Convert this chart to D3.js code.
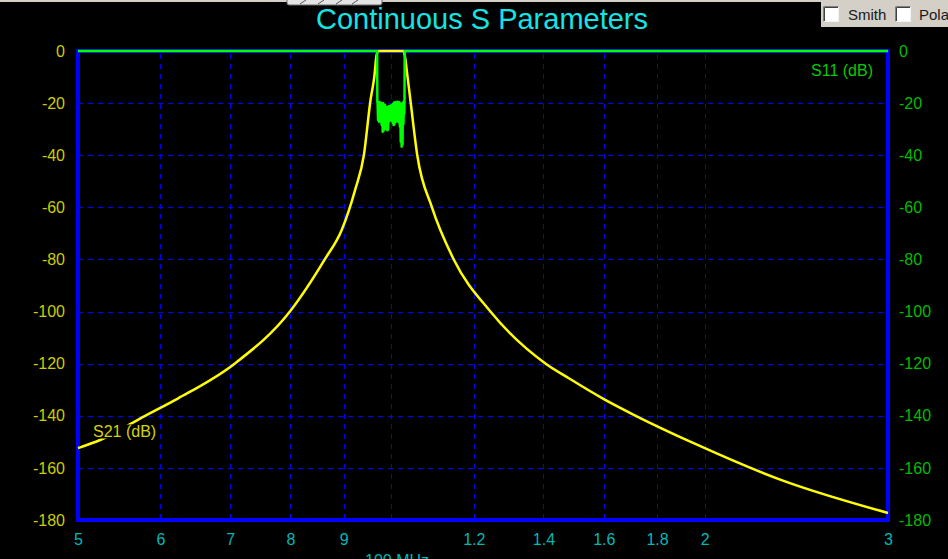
<!DOCTYPE html>
<html>
<head>
<meta charset="utf-8">
<script src="https://cdn.jsdelivr.net/npm/d3@7/dist/d3.min.js"></script>
<style>
  html, body { margin: 0; padding: 0; background: #000; overflow: hidden; }
  svg { display: block; }
</style>
</head>
<body>
<svg id="chart" width="948" height="559"></svg>
<script>
// ---------------- DATA ----------------
const title = "Continuous S Parameters";
const xTickValues = [50, 60, 70, 80, 90, 100, 120, 140, 160, 180, 200, 300];
const xTickLabels = ["5", "6", "7", "8", "9", "", "1.2", "1.4", "1.6", "1.8", "2", "3"];
const xGridValues = [60, 70, 80, 90, 100, 120, 140, 160, 180, 200];
const yTickValues = [0, -20, -40, -60, -80, -100, -120, -140, -160, -180];
const yGridValues = [-20, -40, -60, -80, -100, -120, -140, -160];
const xUnitLabel = "100 MHz";

// S21 (dB) vs frequency (MHz)
const s21Freq = [50, 52.5, 58.0, 62.4, 70.7, 79.9, 86.3, 89.6, 92.3, 94.1, 95.5, 96.3, 96.8, 97.2,
                 100, 102.7, 103.05, 103.55, 104.3, 105.9, 109.4, 114.8, 124.5,
                 140.7, 148.1, 160.0, 171.7, 195.4, 236.7, 300];
const s21dB = [-152.4, -149.3, -140.0, -133.3, -120.0, -100.0, -80.0, -68.7, -53.3, -40.0, -18.8, -9.9, -1.5, 0,
               0, 0, -2.0, -8.6, -18.8, -40.0, -60.0, -80.0, -100.0,
               -120.0, -125.6, -133.6, -140.0, -150.6, -164.6, -177.3];

// S11 (dB) vs frequency (MHz)
const s11Freq = [50, 96.9, 96.95,
  97.0, 97.1, 97.2, 97.3, 97.4, 97.5, 97.6, 97.7, 97.8, 97.9,
  98.0, 98.1, 98.2, 98.3, 98.4, 98.5, 98.6, 98.7, 98.8, 98.9,
  99.0, 99.1, 99.2, 99.3, 99.4, 99.5, 99.6, 99.7, 99.8, 99.9,
  100.0, 100.1, 100.2, 100.3, 100.4, 100.5, 100.6, 100.7, 100.8, 100.9,
  101.0, 101.1, 101.2, 101.3, 101.4, 101.5, 101.6, 101.7, 101.8, 101.9,
  102.0, 102.1, 102.2, 102.3, 102.4, 102.5, 102.6, 102.7, 102.8, 102.9,
  102.95, 103.0, 300];
const s11dB = [0, 0, -19.6,
  -19.8, -26.5, -20.2, -27.1, -19.6, -26.8, -20.4, -27.3, -19.9, -28.5,
  -20.3, -31.0, -20.1, -30.6, -21.0, -29.4, -20.6, -29.8, -21.4, -28.9,
  -21.5, -30.4, -21.8, -30.1, -21.2, -27.0, -21.6, -26.4, -20.9, -26.7,
  -21.3, -25.9, -20.7, -27.6, -20.2, -28.4, -19.8, -28.1, -20.3, -27.2,
  -19.6, -26.3, -20.1, -27.0, -19.5, -26.6, -20.0, -27.4, -19.7, -29.0,
  -20.4, -34.8, -20.2, -36.7, -20.6, -35.9, -19.8, -28.0, -19.4, -24.0,
  -18.8, 0, 0];

// ---------------- CHART ----------------
const W = 948, H = 559;
const svg = d3.select("#chart");
const FONT = "'Liberation Sans', Arial, sans-serif";

svg.append("rect").attr("x", 0).attr("y", 0).attr("width", W).attr("height", H).attr("fill", "#000");

const x = d3.scaleLog().domain([50, 300]).range([78, 888]);
const y = d3.scaleLinear().domain([-180, 0]).range([520, 51]);

// window chrome at top
svg.append("rect").attr("x", 0).attr("y", 0).attr("width", W).attr("height", 2).attr("fill", "#d4d0c8");
svg.append("rect").attr("x", 287).attr("y", -4).attr("width", 95).attr("height", 9).attr("rx", 2)
  .attr("fill", "#e4e4e4").attr("stroke", "#6a6a6a").attr("stroke-width", 1);
[300, 318, 336, 352].forEach(px => {
  svg.append("line").attr("x1", px).attr("x2", px + 6).attr("y1", 4).attr("y2", 0)
    .attr("stroke", "#555").attr("stroke-width", 1);
});

const panel = svg.append("g");
panel.append("rect").attr("x", 821).attr("y", 0).attr("width", 127).attr("height", 27).attr("fill", "#d4d0c8");
function checkbox(bx, by) {
  panel.append("rect").attr("x", bx).attr("y", by).attr("width", 16).attr("height", 16).attr("fill", "#fff");
  panel.append("path").attr("d", `M${bx + 0.5},${by + 16} V${by + 0.5} H${bx + 16}`).attr("fill", "none").attr("stroke", "#808080");
  panel.append("path").attr("d", `M${bx + 1.5},${by + 15} V${by + 1.5} H${bx + 15}`).attr("fill", "none").attr("stroke", "#404040");
  panel.append("path").attr("d", `M${bx + 0.5},${by + 15.5} H${bx + 15.5} V${by + 0.5}`).attr("fill", "none").attr("stroke", "#f4f4f4");
}
checkbox(823, 6);
checkbox(895, 6);
panel.append("text").attr("x", 848).attr("y", 20).attr("font-family", FONT).attr("font-size", 15)
  .attr("fill", "#1a1a1a").text("Smith");
panel.append("text").attr("x", 919).attr("y", 20).attr("font-family", FONT).attr("font-size", 15)
  .attr("fill", "#1a1a1a").text("Polar");

// title
svg.append("text").attr("x", 482).attr("y", 29).attr("text-anchor", "middle")
  .attr("font-family", FONT).attr("font-size", 29).attr("fill", "#14e4e4").text(title);

// grid
const grid = svg.append("g").attr("stroke", "#0000ff").attr("stroke-width", 1)
  .attr("stroke-dasharray", "5,5").attr("shape-rendering", "crispEdges");
grid.selectAll("line.v").data(xGridValues).join("line").attr("class", "v")
  .attr("x1", d => Math.round(x(d)) + 0.5).attr("x2", d => Math.round(x(d)) + 0.5)
  .attr("y1", y(0) + 3).attr("y2", y(-180));
grid.selectAll("line.h").data(yGridValues).join("line").attr("class", "h")
  .attr("x1", x(50)).attr("x2", x(300))
  .attr("y1", d => Math.round(y(d)) + 0.5).attr("y2", d => Math.round(y(d)) + 0.5);

// axes (labels)
function styleAxis(g, color) {
  g.select(".domain").remove();
  g.selectAll(".tick line").remove();
  g.selectAll("text").attr("font-family", FONT).attr("font-size", 16).attr("fill", color);
}
svg.append("g").attr("transform", `translate(${x(50)},0)`)
  .call(d3.axisLeft(y).tickValues(yTickValues).tickSize(0).tickPadding(13).tickFormat(d => String(d)))
  .call(g => styleAxis(g, "#cccc00"));
svg.append("g").attr("transform", `translate(${x(300)},0)`)
  .call(d3.axisRight(y).tickValues(yTickValues).tickSize(0).tickPadding(11).tickFormat(d => String(d)))
  .call(g => styleAxis(g, "#00bc00"));
svg.append("g").attr("transform", `translate(0,${y(-180)})`)
  .call(d3.axisBottom(x).tickValues(xTickValues).tickSize(0).tickPadding(14).tickFormat((d, i) => xTickLabels[i]))
  .call(g => styleAxis(g, "#00b8b8"));

svg.append("text").attr("x", 365).attr("y", 566).attr("font-family", FONT).attr("font-size", 16)
  .attr("fill", "#00b8b8").text(xUnitLabel);

// plot border
svg.append("rect").attr("x", x(50)).attr("y", y(0)).attr("width", x(300) - x(50)).attr("height", y(-180) - y(0))
  .attr("fill", "none").attr("stroke", "#0000ff").attr("stroke-width", 4);

// curves
const s21 = s21Freq.map((f, i) => [f, s21dB[i]]);
const s11 = s11Freq.map((f, i) => [f, s11dB[i]]);

svg.append("path").datum(s21)
  .attr("d", d3.line().x(d => x(d[0])).y(d => y(d[1])).curve(d3.curveMonotoneX))
  .attr("fill", "none").attr("stroke", "#ffff00").attr("stroke-width", 2.5).attr("stroke-linejoin", "round");

svg.append("path").datum(s11)
  .attr("d", d3.line().x(d => x(d[0])).y(d => y(d[1])))
  .attr("fill", "none").attr("stroke", "#00ff00").attr("stroke-width", 2.5).attr("stroke-linejoin", "round");

// legend labels
svg.append("text").attr("x", 873).attr("y", 76).attr("text-anchor", "end")
  .attr("font-family", FONT).attr("font-size", 16).attr("fill", "#00cc00").text("S11 (dB)");

const s21Label = svg.append("g");
const s21Bg = s21Label.append("rect").attr("fill", "#000");
const s21Text = s21Label.append("text").attr("x", 93).attr("y", 436.5)
  .attr("font-family", FONT).attr("font-size", 16).attr("fill", "#d4d400").text("S21 (dB)");
const bb = s21Text.node().getBBox();
s21Bg.attr("x", bb.x + 6).attr("y", bb.y + 2).attr("width", bb.width - 6).attr("height", bb.height - 3);
</script>
</body>
</html>
